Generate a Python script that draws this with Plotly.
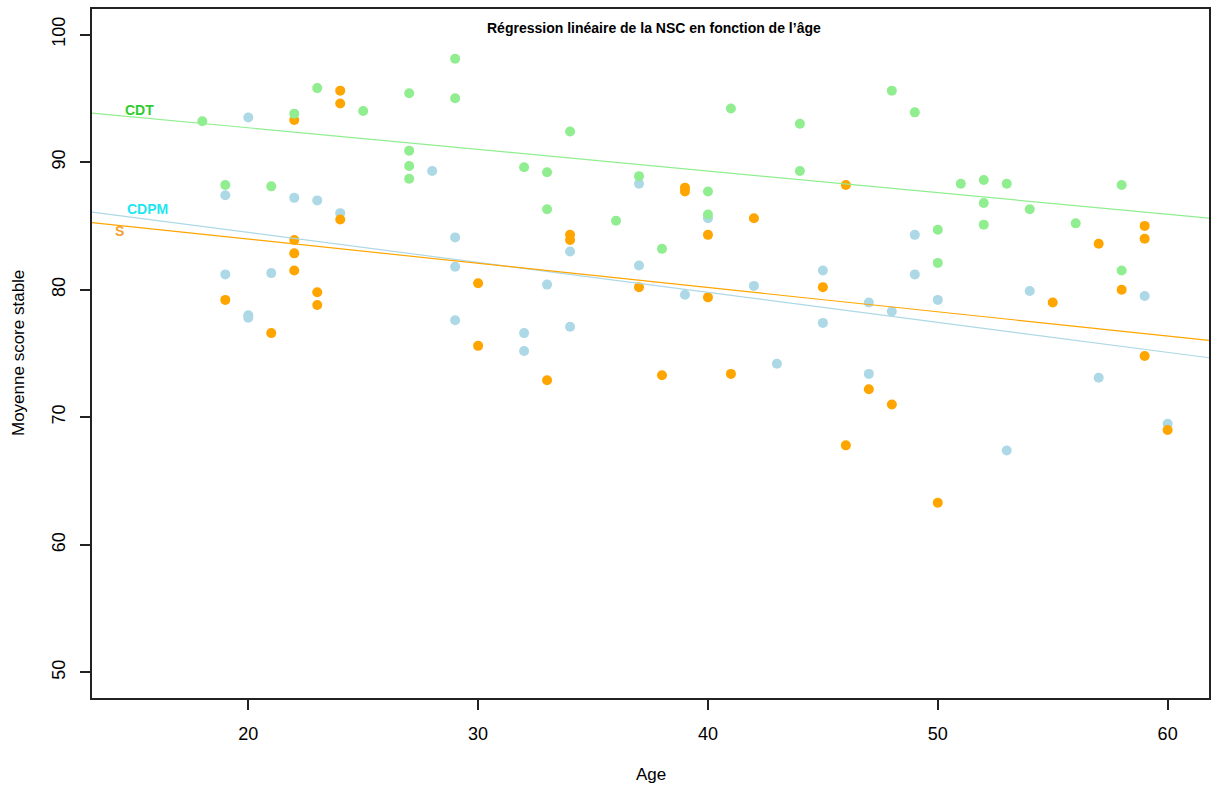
import plotly.graph_objects as go

# --- data -------------------------------------------------------------
# CDT group
cdt_age = [18, 19, 21, 22, 23, 25, 27, 27, 27, 27, 29, 29, 32, 33, 33, 34, 36, 37, 38,
           40, 40, 41, 44, 44, 48, 49, 50, 50, 51, 52, 52, 52, 53, 54, 56, 58, 58]
cdt_score = [93.2, 88.2, 88.1, 93.8, 95.8, 94.0, 95.4, 90.9, 89.7, 88.7, 98.1, 95.0, 89.6,
             89.2, 86.3, 92.4, 85.4, 88.9, 83.2, 87.7, 85.9, 94.2, 93.0, 89.3, 95.6, 93.9,
             84.7, 82.1, 88.3, 88.6, 86.8, 85.1, 88.3, 86.3, 85.2, 88.2, 81.5]

# CDPM group
cdpm_age = [19, 19, 20, 20, 20, 21, 22, 23, 24, 28, 29, 29, 29, 32, 32, 33, 34, 34, 37, 37,
            39, 40, 42, 43, 45, 45, 47, 47, 48, 49, 49, 50, 53, 54, 57, 59, 60]
cdpm_score = [87.4, 81.2, 93.5, 78.0, 77.8, 81.3, 87.2, 87.0, 86.0, 89.3, 84.1, 81.8, 77.6,
              76.6, 75.2, 80.4, 83.0, 77.1, 88.3, 81.9, 79.6, 85.6, 80.3, 74.2, 81.5, 77.4,
              79.0, 73.4, 78.3, 84.3, 81.2, 79.2, 67.4, 79.9, 73.1, 79.5, 69.5]

# S group
s_age = [19, 21, 22, 22, 22, 22, 23, 23, 24, 24, 24, 30, 30, 33, 34, 34, 37, 38, 39, 39,
         40, 40, 41, 42, 45, 46, 46, 47, 48, 50, 55, 57, 58, 59, 59, 59, 60]
s_score = [79.2, 76.6, 93.3, 83.9, 82.85, 81.5, 79.8, 78.8, 95.6, 94.6, 85.5, 80.5, 75.6,
           72.9, 84.3, 83.9, 80.2, 73.3, 88.0, 87.7, 84.3, 79.4, 73.4, 85.6, 80.2, 88.2,
           67.8, 72.2, 71.0, 63.3, 79.0, 83.6, 80.0, 85.0, 84.0, 74.8, 69.0]

# regression lines: (intercept, slope)
cdt_fit = (96.08, -0.1695)
cdpm_fit = (89.19, -0.235)
s_fit = (87.77, -0.19)

x_ticks = [20, 30, 40, 50, 60]
y_ticks = [50, 60, 70, 80, 90, 100]
x_range = [13.2, 61.8]
y_range = [48, 102]

# --- styling ----------------------------------------------------------
COL_CDT = "#90EE90"
COL_CDPM = "#ADD8E6"
COL_S = "#FFA500"
FONT = "Liberation Sans, Arial, Helvetica, sans-serif"

fig = go.Figure()

def fit_line(fit, color, name):
    a, b = fit
    xs = [x_range[0], x_range[1]]
    ys = [a + b * x for x in xs]
    fig.add_trace(go.Scatter(x=xs, y=ys, mode="lines", name=name,
                             line=dict(color=color, width=1.2),
                             hoverinfo="skip", showlegend=False))

def points(xs, ys, color, name):
    fig.add_trace(go.Scatter(x=xs, y=ys, mode="markers", name=name,
                             marker=dict(color=color, size=10, line=dict(width=0)),
                             showlegend=False))

points(cdpm_age, cdpm_score, COL_CDPM, "CDPM")
points(s_age, s_score, COL_S, "S")
points(cdt_age, cdt_score, COL_CDT, "CDT")

fit_line(cdt_fit, COL_CDT, "CDT")
fit_line(cdpm_fit, COL_CDPM, "CDPM")
fit_line(s_fit, COL_S, "S")

# group labels next to the lines
for txt, x, y, col in [("CDT", 15.27, 94.05, "#2ECC2E"),
                       ("CDPM", 15.61, 86.3, "#1EE6F0"),
                       ("S", 14.38, 84.6, "#F5A030")]:
    fig.add_annotation(x=x, y=y, text=f"<b>{txt}</b>", showarrow=False,
                       xanchor="center", yanchor="middle",
                       font=dict(family=FONT, size=14, color=col))

# title inside the plot box
fig.add_annotation(xref="paper", yref="paper", x=0.503, y=0.9725,
                   text="<b>Régression linéaire de la NSC en fonction de l’âge</b>",
                   showarrow=False, xanchor="center", yanchor="middle",
                   font=dict(family=FONT, size=14, color="black"))

# axis titles
fig.add_annotation(xref="paper", yref="paper", x=0.5, y=-0.1116, text="Age",
                   showarrow=False, xanchor="center", yanchor="middle",
                   font=dict(family=FONT, size=17, color="black"))
fig.add_annotation(xref="paper", yref="paper", x=-0.0658, y=0.5,
                   text="Moyenne score stable", textangle=-90,
                   showarrow=False, xanchor="center", yanchor="middle",
                   font=dict(family=FONT, size=17, color="black"))

axis_common = dict(showgrid=False, zeroline=False, showline=True, mirror=True,
                   linecolor="#222222", linewidth=1.5, ticks="outside",
                   ticklen=10, tickwidth=1.5, tickcolor="#222222",
                   tickfont=dict(family=FONT, size=18, color="black"))

fig.update_layout(
    width=1218, height=787,
    margin=dict(l=92, r=7, t=8, b=89),
    paper_bgcolor="white", plot_bgcolor="white",
    xaxis=dict(range=x_range, tickvals=x_ticks, ticklabelstandoff=9, **axis_common),
    yaxis=dict(range=y_range, tickvals=y_ticks, tickangle=-90, ticklabelstandoff=8,
               **axis_common),
)

fig.write_html("out.html")
